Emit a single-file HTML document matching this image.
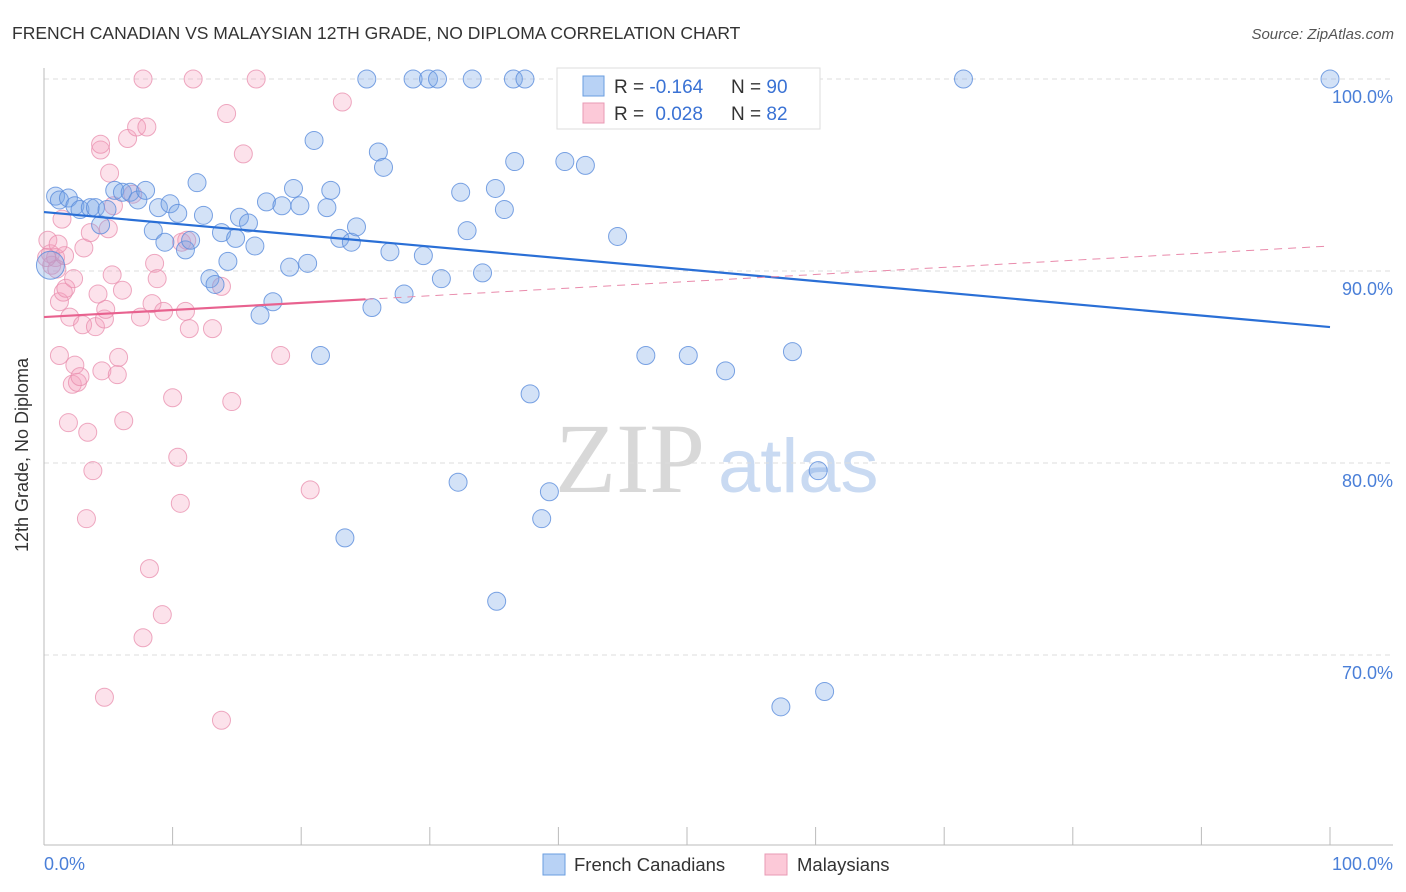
<!DOCTYPE html>
<html><head><meta charset="utf-8"><style>
body{margin:0;background:#fff;font-family:"Liberation Sans",sans-serif}
svg{display:block}
</style></head><body>
<svg id="chart" width="1406" height="892">
<text x="12" y="39" font-size="17.5" fill="#333">FRENCH CANADIAN VS MALAYSIAN 12TH GRADE, NO DIPLOMA CORRELATION CHART</text>
<text x="1394" y="39" font-size="15" fill="#555" font-style="italic" text-anchor="end">Source: ZipAtlas.com</text>
<text x="28" y="455" font-size="18" fill="#333" text-anchor="middle" transform="rotate(-90 28 455)">12th Grade, No Diploma</text>
<g>
<text x="555" y="492" font-family="Liberation Serif,serif" font-size="100" fill="#d8d8d8">ZIP</text>
<text x="718" y="492" font-size="76" fill="#c9daf2">atlas</text>
</g>
<g id="grid"></g>
<g id="marks"></g>
<g id="trends"></g>
<g>
<rect x="557" y="68" width="263" height="61" fill="#fff" stroke="#ddd"/>
<rect x="583" y="76" width="21" height="20" fill="#b8d2f5" stroke="#6a9ee0"/>
<rect x="583" y="103" width="21" height="20" fill="#fcc9d8" stroke="#e89ab4"/>
<text x="614" y="93" font-size="19" fill="#333">R = <tspan fill="#3a72d4">-0.164</tspan></text>
<text x="731" y="93" font-size="19" fill="#333">N = <tspan fill="#3a72d4">90</tspan></text>
<text x="614" y="120" font-size="19" fill="#333">R = <tspan fill="#3a72d4" dx="6">0.028</tspan></text>
<text x="731" y="120" font-size="19" fill="#333">N = <tspan fill="#3a72d4">82</tspan></text>
</g>
<g>
<rect x="543" y="854" width="22" height="21" fill="#b8d2f5" stroke="#6a9ee0"/>
<text x="574" y="871" font-size="18.5" fill="#333">French Canadians</text>
<rect x="765" y="854" width="22" height="21" fill="#fcc9d8" stroke="#e89ab4"/>
<text x="797" y="871" font-size="18.5" fill="#333">Malaysians</text>
</g>
</svg>
<script>
const yTicks=[100,90,80,70];
const yTickLabels=["100.0%","90.0%","80.0%","70.0%"];
const xLabels=["0.0%","100.0%"];
const blueX=[0.9,1.2,1.9,2.4,2.8,3.6,4.0,4.4,4.9,5.5,6.1,6.7,7.3,7.9,8.5,8.9,9.4,9.8,10.4,11.0,11.4,11.9,12.4,12.9,13.3,13.8,14.3,14.9,15.2,15.9,16.4,16.8,17.3,17.8,18.5,19.1,19.4,19.9,20.5,21.0,21.5,22.0,22.3,23.0,23.4,23.9,24.3,25.1,25.5,26.0,26.4,26.9,28.0,28.7,29.5,29.9,30.6,30.9,32.2,32.4,32.9,33.3,34.1,35.1,35.2,35.8,36.5,36.6,37.4,37.8,38.7,39.3,40.5,42.1,44.6,46.8,47.9,50.1,53.0,57.3,58.2,60.2,60.7,71.5,100,0.5];
const blueY=[93.9,93.7,93.8,93.4,93.2,93.3,93.3,92.4,93.2,94.2,94.1,94.1,93.7,94.2,92.1,93.3,91.5,93.5,93.0,91.1,91.6,94.6,92.9,89.6,89.3,92.0,90.5,91.7,92.8,92.5,91.3,87.7,93.6,88.4,93.4,90.2,94.3,93.4,90.4,96.8,85.6,93.3,94.2,91.7,76.1,91.5,92.3,100,88.1,96.2,95.4,91.0,88.8,100,90.8,100,100,89.6,79.0,94.1,92.1,100,89.9,94.3,72.8,93.2,100,95.7,100,83.6,77.1,78.5,95.7,95.5,91.8,85.6,100,85.6,84.8,67.3,85.8,79.6,68.1,100,100,90.3];
const pinkX=[0.5,0.6,0.9,1.0,0.3,1.2,1.4,1.5,1.7,1.9,2.0,2.2,2.3,2.4,2.6,2.8,3.0,3.1,3.3,3.4,3.6,3.8,4.0,4.2,4.4,4.4,4.5,4.7,4.8,5.0,5.1,5.3,5.4,5.7,5.8,6.1,6.2,6.5,6.9,7.2,7.5,7.7,7.7,8.0,8.2,8.4,8.6,8.8,9.2,9.3,10.0,10.4,10.6,10.7,11.0,11.1,11.3,11.6,13.1,13.8,13.8,14.2,14.6,15.5,16.5,18.4,20.7,23.2,4.7,1.2,1.6,1.1,0.2];
const pinkY=[90.9,90.3,90.7,90.1,91.6,88.4,92.7,88.9,89.1,82.1,87.6,84.1,89.6,85.1,84.2,84.5,87.2,91.2,77.1,81.6,92.0,79.6,87.1,88.8,96.3,96.6,84.8,87.5,88.0,92.2,95.1,89.8,93.4,84.6,85.5,89.0,82.2,96.9,94.0,97.5,87.6,100,70.9,97.5,74.5,88.3,90.4,89.6,72.1,87.9,83.4,80.3,77.9,91.5,87.9,91.6,87.0,100,87.0,89.2,66.6,98.2,83.2,96.1,100,85.6,78.6,98.8,67.8,85.6,90.8,91.4,90.7];
const blueTrend=[93.07,87.08];
const pinkTrend=[87.6,91.3];
const pinkSolidEnd=25;

const NS="http://www.w3.org/2000/svg";
const X0=44,X1=1330,Y100=79,PPP=19.2;
const sx=v=>X0+(X1-X0)*v/100;
const sy=v=>Y100+(100-v)*PPP;
function mk(tag,attrs,parent){const e=document.createElementNS(NS,tag);for(const k in attrs)e.setAttribute(k,attrs[k]);parent.appendChild(e);return e;}
const grid=document.getElementById('grid');
yTicks.forEach((t,i)=>{
  const l=mk('line',{x1:44,x2:1393,y1:sy(t),y2:sy(t),stroke:'#ddd','stroke-dasharray':'5,4'},grid);
  
  
  const tx=mk('text',{x:1393,y:sy(t)+24,'font-size':18,fill:'#4a7fd8','text-anchor':'end'},grid);
  tx.textContent=yTickLabels[i];
  
  
});
const ax=mk('line',{x1:44,x2:1393,y1:845,y2:845,stroke:'#bbb'},grid);


const ay=mk('line',{x1:44,x2:44,y1:68,y2:845,stroke:'#bbb'},grid);


for(let k=0;k<=10;k++){
  const t=mk('line',{x1:sx(k*10),x2:sx(k*10),y1:827,y2:845,stroke:'#bbb'},grid);
  
  
}
const xl0=mk('text',{x:44,y:870,'font-size':18,fill:'#4a7fd8'},grid);xl0.textContent=xLabels[0];


const xl1=mk('text',{x:1393,y:870,'font-size':18,fill:'#4a7fd8','text-anchor':'end'},grid);xl1.textContent=xLabels[1];



const marks=document.getElementById('marks');
pinkX.forEach((x,i)=>{
  const c=mk('circle',{cx:sx(x),cy:sy(pinkY[i]),r:9,fill:'rgba(244,160,188,0.3)',stroke:'rgba(232,140,172,0.75)','stroke-width':1},marks);
  
  
});
blueX.forEach((x,i)=>{
  const big=i===blueX.length-1;
  const c=mk('circle',{cx:sx(x),cy:sy(blueY[i]),r:big?14:9,fill:'rgba(120,168,232,0.33)',stroke:'rgba(90,140,220,0.8)','stroke-width':1},marks);
  
  
});
const tr=document.getElementById('trends');
const bl=mk('line',{x1:sx(0),y1:sy(blueTrend[0]),x2:sx(100),y2:sy(blueTrend[1]),stroke:'#2a6fd6','stroke-width':2.2},tr);


const pAt=x=>pinkTrend[0]+(pinkTrend[1]-pinkTrend[0])*x/100;
const pd=mk('line',{x1:sx(pinkSolidEnd),y1:sy(pAt(pinkSolidEnd)),x2:sx(100),y2:sy(pinkTrend[1]),stroke:'#e98aab','stroke-width':1,'stroke-dasharray':'8,6'},tr);


const ps=mk('line',{x1:sx(0),y1:sy(pinkTrend[0]),x2:sx(pinkSolidEnd),y2:sy(pAt(pinkSolidEnd)),stroke:'#e8628f','stroke-width':2.2},tr);


</script>
</body></html>
